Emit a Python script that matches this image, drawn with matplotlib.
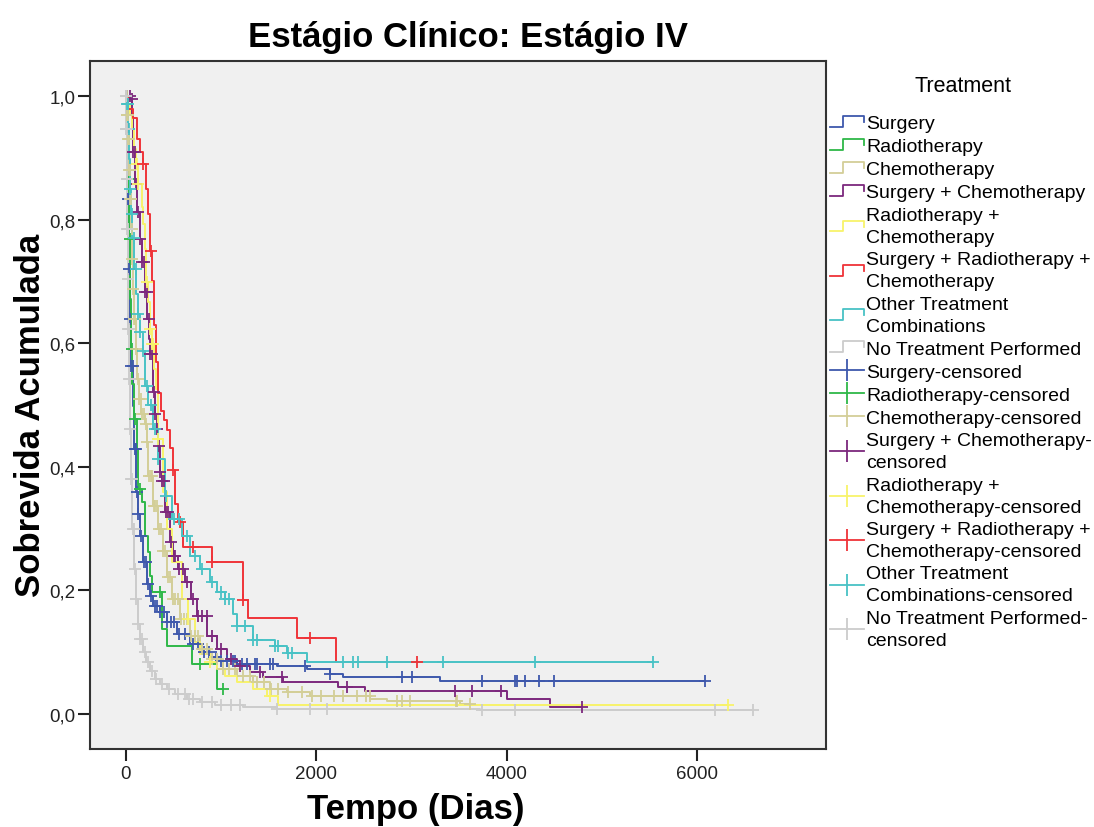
import numpy as np
import matplotlib
matplotlib.use("Agg")
import matplotlib.pyplot as plt
from matplotlib.lines import Line2D
from matplotlib.legend_handler import HandlerBase
from matplotlib.ticker import FuncFormatter

plt.rcParams['font.family'] = ['Liberation Sans', 'DejaVu Sans']

# --- Kaplan-Meier step data (days, cumulative survival) ---
surg_t = [0, 10, 21, 31, 42, 52, 73, 84, 105, 126, 147, 179, 220, 252, 284, 357, 430, 535, 672,
          777, 882, 987, 1166, 1586, 1900, 2142, 2279, 3297, 6080]
surg_s = [1.0, 0.947, 0.833, 0.72, 0.64, 0.563, 0.498, 0.429, 0.359, 0.324, 0.288, 0.246, 0.21,
          0.191, 0.175, 0.165, 0.149, 0.129, 0.113, 0.10, 0.092, 0.086, 0.081, 0.078, 0.073,
          0.065, 0.06, 0.053, 0.053]
surg_c = [2, 4, 6, 9, 12, 15, 20, 25, 30, 36, 45, 55, 70, 90, 100, 115, 130, 160, 185, 210, 235,
          260, 300, 330, 360, 400, 430, 470, 500, 560, 620, 700, 760, 820, 870, 950, 1000, 1060,
          1120, 1150, 1218, 1270, 1355, 1375, 1512, 1545, 1880, 2142, 2900, 3000, 3740, 4085,
          4110, 4190, 4340, 4494, 6080]

radio_t = [0, 10, 21, 31, 42, 52, 63, 84, 116, 126, 168, 200, 231, 252, 273, 378, 430, 693, 956, 1019]
radio_s = [1.0, 0.947, 0.866, 0.769, 0.672, 0.59, 0.534, 0.477, 0.429, 0.364, 0.343, 0.288,
           0.262, 0.223, 0.197, 0.138, 0.11, 0.081, 0.04, 0.04]
radio_c = [5, 15, 25, 40, 60, 90, 150, 357, 777, 1019]

chemo_t = [0, 10, 21, 31, 42, 52, 63, 73, 84, 105, 116, 137, 158, 200, 221, 231, 284, 336, 389,
           430, 483, 567, 672, 777, 882, 1019, 1166, 1334, 1512, 1691, 1932, 2562, 2741, 3507, 3612]
chemo_s = [1.0, 0.97, 0.93, 0.88, 0.833, 0.785, 0.736, 0.688, 0.639, 0.59, 0.542, 0.51, 0.485,
           0.469, 0.44, 0.385, 0.337, 0.30, 0.264, 0.222, 0.186, 0.154, 0.126, 0.105, 0.089,
           0.073, 0.061, 0.052, 0.04, 0.036, 0.029, 0.024, 0.021, 0.016, 0.016]
chemo_c = [3, 6, 10, 14, 18, 22, 27, 33, 38, 45, 50, 58, 66, 75, 85, 95, 110, 125, 140, 155, 170,
           190, 210, 225, 245, 260, 275, 290, 310, 330, 350, 370, 390, 410, 440, 460, 490, 520,
           550, 580, 610, 640, 680, 720, 760, 800, 850, 900, 960, 1020, 1080, 1150, 1230, 1300,
           1380, 1450, 1520, 1600, 1700, 1850, 1950, 2050, 2180, 2280, 2430, 2520, 2560, 2850,
           2900, 2980, 3470, 3480, 3612]

sc_t = [0, 42, 63, 74, 95, 116, 147, 168, 200, 221, 242, 252, 284, 305, 326, 336, 357, 378, 410,
        462, 494, 546, 620, 683, 746, 851, 956, 1061, 1166, 1302, 1439, 1649, 2226, 2510, 4000,
        4452, 4788]
sc_s = [1.0, 0.995, 0.963, 0.909, 0.858, 0.812, 0.769, 0.731, 0.683, 0.639, 0.607, 0.583, 0.521,
        0.485, 0.461, 0.434, 0.392, 0.377, 0.327, 0.278, 0.256, 0.235, 0.214, 0.186, 0.159,
        0.126, 0.105, 0.089, 0.078, 0.068, 0.06, 0.052, 0.044, 0.037, 0.024, 0.011, 0.011]
sc_c = [40, 60, 75, 90, 110, 130, 150, 170, 185, 200, 220, 240, 255, 270, 290, 310, 330, 345, 360,
        380, 395, 420, 440, 470, 500, 520, 560, 600, 640, 700, 760, 800, 850, 900, 1000, 1100,
        1200, 1407, 1638, 2320, 3455, 3633, 3938, 4788]

rc_t = [0, 21, 42, 63, 84, 105, 126, 168, 179, 200, 210, 231, 252, 273, 294, 315, 336, 389, 430,
        483, 588, 651, 724, 777, 882, 956, 1040, 1166, 1334, 1481, 1596, 6321]
rc_s = [1.0, 0.987, 0.97, 0.947, 0.914, 0.89, 0.858, 0.82, 0.793, 0.752, 0.699, 0.667, 0.623,
        0.599, 0.558, 0.526, 0.445, 0.359, 0.299, 0.246, 0.186, 0.154, 0.117, 0.097, 0.084,
        0.073, 0.061, 0.052, 0.04, 0.029, 0.015, 0.015]
rc_c = [116, 126, 221, 252, 273, 284, 336, 651, 882, 1512, 6321]

src_t = [0, 21, 74, 116, 147, 179, 210, 231, 252, 273, 294, 315, 336, 368, 399, 430, 462, 494,
         515, 546, 600, 903, 1229, 1281, 1796, 2205, 3055]
src_s = [1.0, 0.98, 0.965, 0.93, 0.91, 0.89, 0.85, 0.81, 0.75, 0.70, 0.63, 0.57, 0.52, 0.49,
         0.475, 0.46, 0.43, 0.395, 0.34, 0.31, 0.27, 0.245, 0.185, 0.155, 0.123, 0.084, 0.084]
src_c = [179, 262, 494, 567, 704, 903, 1229, 1932, 3055]

oth_t = [0, 10, 21, 31, 42, 52, 63, 84, 105, 126, 147, 179, 200, 231, 284, 336, 410, 483, 588,
         672, 777, 882, 956, 1040, 1124, 1166, 1334, 1565, 1691, 1901, 5534]
oth_s = [1.0, 0.987, 0.947, 0.898, 0.85, 0.81, 0.77, 0.72, 0.68, 0.647, 0.618, 0.587, 0.53, 0.50,
         0.461, 0.413, 0.353, 0.316, 0.288, 0.256, 0.235, 0.214, 0.197, 0.186, 0.162, 0.142,
         0.120, 0.110, 0.099, 0.084, 0.084]
oth_c = [5, 12, 20, 30, 45, 60, 80, 100, 130, 150, 180, 220, 260, 300, 340, 420, 500, 560, 640,
         720, 800, 900, 1000, 1040, 1080, 1166, 1250, 1334, 1376, 1565, 1600, 1700, 1743, 2279,
         2384, 2436, 2741, 3329, 4295, 5534]

none_t = [0, 3, 8, 12, 18, 24, 30, 40, 52, 63, 84, 105, 126, 147, 179, 210, 252, 305, 357, 430,
          515, 640, 777, 935, 1229, 1586, 3717, 6584]
none_s = [1.0, 0.947, 0.866, 0.785, 0.704, 0.623, 0.542, 0.461, 0.38, 0.30, 0.235, 0.186, 0.146,
          0.121, 0.10, 0.084, 0.07, 0.057, 0.049, 0.04, 0.032, 0.024, 0.019, 0.015, 0.011,
          0.008, 0.006, 0.006]
none_c = [1, 2, 3, 4, 5, 7, 9, 11, 14, 17, 20, 24, 28, 33, 38, 45, 52, 60, 70, 80, 95, 110, 130,
          150, 170, 200, 230, 270, 320, 380, 450, 550, 620, 660, 700, 800, 900, 1000, 1100, 1200,
          1586, 1932, 2110, 3738, 4085, 6185, 6584]

labels = ["Surgery", "Radiotherapy", "Chemotherapy", "Surgery + Chemotherapy",
          "Radiotherapy +\nChemotherapy", "Surgery + Radiotherapy +\nChemotherapy",
          "Other Treatment\nCombinations", "No Treatment Performed"]
cens_labels = ["Surgery-censored", "Radiotherapy-censored", "Chemotherapy-censored",
               "Surgery + Chemotherapy-\ncensored", "Radiotherapy +\nChemotherapy-censored",
               "Surgery + Radiotherapy +\nChemotherapy-censored",
               "Other Treatment\nCombinations-censored", "No Treatment Performed-\ncensored"]
colors = ["#3e58ac", "#2eb848", "#d3ce97", "#7c287d", "#f8f36a", "#ef3338", "#48c2c5", "#cccccc"]

groups = [(surg_t, surg_s, surg_c), (radio_t, radio_s, radio_c), (chemo_t, chemo_s, chemo_c),
          (sc_t, sc_s, sc_c), (rc_t, rc_s, rc_c), (src_t, src_s, src_c),
          (oth_t, oth_s, oth_c), (none_t, none_s, none_c)]

fig = plt.figure(figsize=(10.94, 8.28), dpi=100)
ax = fig.add_axes([90 / 1094, 1 - 750 / 828, 736 / 1094, 688 / 828])
ax.set_facecolor("#f0f0f0")

for (t, s, c), col in zip(groups, colors):
    t = np.array(t, float)
    s = np.array(s, float)
    ax.step(t, s, where="post", color=col, lw=1.4, zorder=2)
    c = np.array(c, float)
    idx = np.searchsorted(t, c, side="right") - 1
    ax.plot(c, s[idx], ls="none", marker="+", ms=9, mew=1.3, color=col, zorder=3)

ax.set_xlim(-378, 7353)
ax.set_ylim(-0.057, 1.057)
ax.set_xticks([0, 2000, 4000, 6000])
ax.set_yticks([0, 0.2, 0.4, 0.6, 0.8, 1.0])
ax.yaxis.set_major_formatter(FuncFormatter(lambda v, p: f"{v:.1f}".replace(".", ",")))
ax.tick_params(labelsize=13.5, colors="#222222", length=8.5, width=1.5)
ax.tick_params(axis="y", pad=2)
ax.tick_params(axis="x", pad=3)
for sp in ax.spines.values():
    sp.set_color("#333333")
    sp.set_linewidth(1.5)

ax.set_xlabel("Tempo (Dias)", fontsize=25, fontweight="bold")
ax.set_ylabel("Sobrevida Acumulada", fontsize=25, fontweight="bold")
ax.xaxis.set_label_coords((416 - 90) / 736, -(810 - 750) / 688)
ax.yaxis.set_label_coords(-(90 - 30) / 736, (750 - 415) / 688)
ax.xaxis.label.set_va("center")
ax.yaxis.label.set_va("center")
fig.text(468 / 1094, 1 - 37 / 828, "Estágio Clínico: Estágio IV", fontsize=25,
         fontweight="bold", ha="center", va="center")
fig.text(963 / 1094, 1 - 87 / 828, "Treatment", fontsize=15.5, ha="center", va="center")


class StepHandler(HandlerBase):
    def create_artists(self, legend, orig, xd, yd, w, h, fontsize, trans):
        x0, y0 = -xd, -yd
        xs = [x0, x0 + 0.4 * w, x0 + 0.4 * w, x0 + w, x0 + w]
        ys = [y0 + 0.1 * h, y0 + 0.1 * h, y0 + 0.9 * h, y0 + 0.9 * h, y0 + 0.45 * h]
        ln = Line2D(xs, ys, color=orig.get_color(), lw=1.3, transform=trans)
        return [ln]


class CensHandler(HandlerBase):
    def create_artists(self, legend, orig, xd, yd, w, h, fontsize, trans):
        x0, y0 = -xd, -yd
        ln = Line2D([x0, x0 + w], [y0 + 0.5 * h] * 2, color=orig.get_color(), lw=1.3,
                    transform=trans)
        mk = Line2D([x0 + 0.5 * w], [y0 + 0.5 * h], marker="|", ms=16, mew=1.3,
                    color=orig.get_color(), ls="none", transform=trans)
        return [ln, mk]


step_handles = [Line2D([], [], color=c, label="step") for c in colors]
cens_handles = [Line2D([], [], color=c, marker="+", label="cens") for c in colors]
hmap = {h: StepHandler() for h in step_handles}
hmap.update({h: CensHandler() for h in cens_handles})
leg = fig.legend(step_handles + cens_handles, labels + cens_labels, handler_map=hmap,
                 loc="upper left", bbox_to_anchor=(816 / 1094, 1 - 102 / 828),
                 frameon=False, fontsize=14,
                 handlelength=1.75, handletextpad=0.12, labelspacing=0.28, borderpad=0.2)
for txt in leg.get_texts():
    txt.set_linespacing(1.38)

fig.savefig("out.png", dpi=100)
